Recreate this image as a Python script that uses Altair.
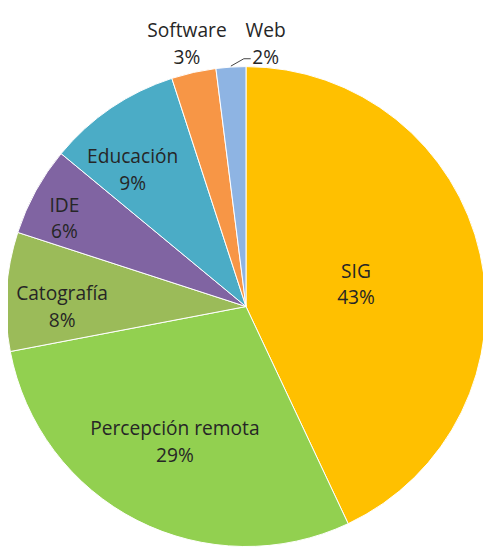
import math
import altair as alt
import pandas as pd

# data
categories = ["SIG", "Percepción remota", "Catografía", "IDE", "Educación", "Software", "Web"]
values = [43, 29, 8, 6, 9, 3, 2]
colors = ["#FFC000", "#92D050", "#9BBB59", "#8064A2", "#4BACC6", "#F79646", "#8EB4E3"]

# layout (label placement relative to slice mid-angle)
label_theta_offset_deg = [1.5, 0.6, -3.9, -3.1, -5.6, -0.1, 7.9]
label_radius = [114, 156, 187, 205, 180, 273, 267]

CX, CY, R = 242, 299, 244
LINE_H = 27

total = sum(values)
rows = []
cum = 0
for i, (c, v) in enumerate(zip(categories, values)):
    mid = (cum + v / 2) / total * 360
    cum += v
    rows.append({
        "idx": i,
        "cat": c,
        "value": v,
        "label": f"{c}\n{round(v / total * 100)}%",
        "lt": math.radians(mid + label_theta_offset_deg[i]),
        "lr": label_radius[i],
    })
df = pd.DataFrame(rows)

# leader line for the last (Web) slice
web_mid = math.radians((total - values[-1] / 2) / total * 360)
p1 = (CX + (R + 1) * math.sin(web_mid), CY - (R + 1) * math.cos(web_mid))
a2 = math.radians(-0.5)
p2 = (CX + (R + 8) * math.sin(a2), CY - (R + 8) * math.cos(a2))
p3 = (p2[0] + 7, p2[1])
leader = pd.DataFrame({"o": [0, 1, 2], "x": [p1[0], p2[0], p3[0]], "y": [p1[1], p2[1], p3[1]]})

color_scale = alt.Scale(domain=categories, range=colors)

pie = alt.Chart(df).mark_arc(radius=R, stroke="white", strokeWidth=1).encode(
    theta=alt.Theta("value:Q", stack=True),
    order=alt.Order("idx:Q"),
    color=alt.Color("cat:N", scale=color_scale, legend=None),
    x=alt.value(CX),
    y=alt.value(CY),
)

labels = alt.Chart(df).mark_text(
    font="Open Sans", fontSize=19.5, lineBreak="\n", lineHeight=LINE_H,
    align="center", baseline="middle", color="#262626", dy=-LINE_H / 2,
).encode(
    theta=alt.Theta("lt:Q", scale=None),
    radius=alt.Radius("lr:Q", scale=None),
    text="label:N",
    x=alt.value(CX),
    y=alt.value(CY),
)

line = alt.Chart(leader).mark_line(color="#404040", strokeWidth=1).encode(
    x=alt.X("x:Q", scale=None, axis=None),
    y=alt.Y("y:Q", scale=None, axis=None),
    order="o:Q",
)

chart = alt.layer(pie, line, labels).properties(
    width=483, height=545, padding=0, autosize=alt.AutoSizeParams(type="none"),
    background="white",
).configure_view(stroke=None)

chart.save("out.html", embed_options={"renderer": "svg", "actions": False})
